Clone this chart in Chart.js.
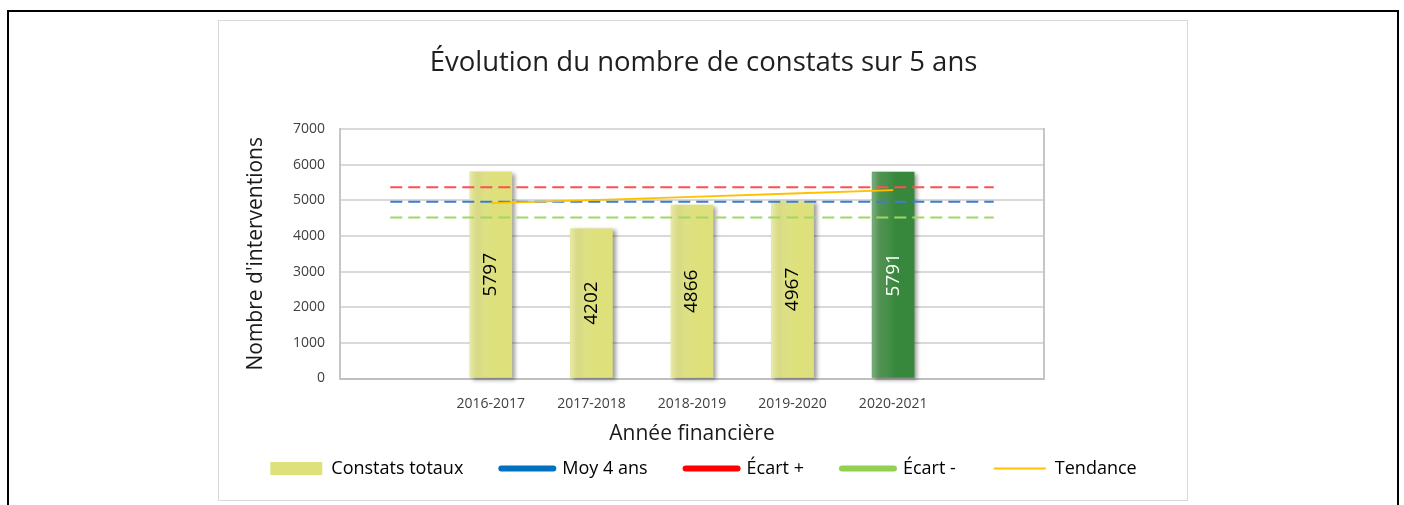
<!DOCTYPE html>
<html lang="fr">
<head>
<meta charset="utf-8">
<title>Évolution du nombre de constats sur 5 ans</title>
<script src="https://cdn.jsdelivr.net/npm/chart.js@4.4.1/dist/chart.umd.min.js"></script>
<style>
  html, body { margin: 0; padding: 0; background: #fff; }
  body { width: 1404px; height: 505px; position: relative; overflow: hidden; }
  #cadre { position: absolute; left: 7px; top: 10px; width: 1388px; height: 520px; border: 2px solid #000; border-bottom: none; }
  #boite { position: absolute; left: 218px; top: 20px; width: 968px; height: 479px; border: 1.5px solid #D9D9D9; }
  #graphique { position: absolute; left: 0; top: 0; }
</style>
</head>
<body>
<div id="cadre"></div>
<div id="boite"></div>
<canvas id="graphique" width="1404" height="505"></canvas>
<script>
// Données
const annees = ["", "2016-2017", "2017-2018", "2018-2019", "2019-2020", "2020-2021", ""];
const constatsTotaux = [null, 5797, 4202, 4866, 4967, 5791, null];
const moy4Ans = [4958, 4958, 4958, 4958, 4958, 4958, 4958];
const ecartPlus = [5365, 5365, 5365, 5365, 5365, 5365, 5365];
const ecartMoins = [4520, 4520, 4520, 4520, 4520, 4520, 4520];
const tendance = [null, 4920, 5005, 5098, 5190, 5285, null];
const graduationsY = [0, 1000, 2000, 3000, 4000, 5000, 6000, 7000];

const POLICE = '"Open Sans", "Noto Sans", sans-serif';
const jaune = "#DDE07B";
const vert = "#37873C";

// ombre + reflet sur les barres
const effetBarres = {
  id: "effetBarres",
  beforeDatasetDraw(chart, args) {
    if (args.index !== 0) return;
    const ctx = chart.ctx;
    ctx.save();
    ctx.shadowColor = "rgba(0,0,0,0.38)";
    ctx.shadowBlur = 4;
    ctx.shadowOffsetX = 3;
    ctx.shadowOffsetY = 2;
  },
  afterDatasetDraw(chart, args) {
    if (args.index !== 0) return;
    const ctx = chart.ctx;
    ctx.restore();
    chart.getDatasetMeta(0).data.forEach((barre, i) => {
      if (constatsTotaux[i] == null) return;
      const g = barre.x - barre.width / 2;
      const grad = ctx.createLinearGradient(g, 0, g + barre.width * 0.55, 0);
      grad.addColorStop(0, "rgba(255,255,255,0.35)");
      grad.addColorStop(0.35, "rgba(190,190,170,0.18)");
      grad.addColorStop(1, "rgba(255,255,255,0)");
      ctx.save();
      ctx.fillStyle = grad;
      ctx.fillRect(g, barre.y, barre.width * 0.55, barre.base - barre.y);
      ctx.restore();
    });
  }
};

// valeurs écrites verticalement dans les barres
const etiquettesBarres = {
  id: "etiquettesBarres",
  afterDatasetsDraw(chart) {
    const ctx = chart.ctx;
    chart.getDatasetMeta(0).data.forEach((barre, i) => {
      if (constatsTotaux[i] == null) return;
      ctx.save();
      ctx.translate(barre.x, (barre.y + barre.base) / 2);
      ctx.rotate(-Math.PI / 2);
      ctx.font = "19px " + POLICE;
      ctx.fillStyle = i === 5 ? "#FFFFFF" : "#000000";
      ctx.textAlign = "center";
      ctx.textBaseline = "middle";
      ctx.fillText(String(constatsTotaux[i]), 0, 0);
      ctx.restore();
    });
  }
};

const legendeItems = [
  { text: "Constats totaux", pointStyle: "rect", fillStyle: jaune, strokeStyle: "rgba(0,0,0,0)", lineWidth: 0 },
  { text: "Moy 4 ans", pointStyle: "line", fillStyle: "#0070C0", strokeStyle: "#0070C0", lineWidth: 6, lineCap: "round" },
  { text: "Écart +", pointStyle: "line", fillStyle: "#FF0000", strokeStyle: "#FF0000", lineWidth: 6, lineCap: "round" },
  { text: "Écart -", pointStyle: "line", fillStyle: "#92D050", strokeStyle: "#92D050", lineWidth: 6, lineCap: "round" },
  { text: "Tendance", pointStyle: "line", fillStyle: "#FFC000", strokeStyle: "#FFC000", lineWidth: 2, lineCap: "butt" }
];

new Chart(document.getElementById("graphique"), {
  data: {
    labels: annees,
    datasets: [
      {
        type: "bar",
        label: "Constats totaux",
        data: constatsTotaux,
        backgroundColor: annees.map((a, i) => i === 5 ? vert : jaune),
        barThickness: 42,
        clip: false,
        order: 10
      },
      {
        type: "line", label: "Moy 4 ans", data: moy4Ans,
        borderColor: "#3C7DCD", borderWidth: 2, borderDash: [12, 6], pointRadius: 0, order: 3
      },
      {
        type: "line", label: "Écart +", data: ecartPlus,
        borderColor: "#FF5050", borderWidth: 2, borderDash: [12, 6], pointRadius: 0, order: 2
      },
      {
        type: "line", label: "Écart -", data: ecartMoins,
        borderColor: "#A0D764", borderWidth: 2, borderDash: [12, 6], pointRadius: 0, order: 4
      },
      {
        type: "line", label: "Tendance", data: tendance,
        borderColor: "#FFC000", borderWidth: 1.8, pointRadius: 0, order: 1
      }
    ]
  },
  options: {
    responsive: false,
    animation: false,
    layout: { padding: { left: 219, right: 216, top: 21, bottom: 17.5 } },
    plugins: {
      title: {
        display: true,
        text: "Évolution du nombre de constats sur 5 ans",
        color: "#1F1F1F",
        font: { family: POLICE, size: 27.5, weight: "normal" },
        padding: { top: 25.5, bottom: 49.5 }
      },
      legend: {
        position: "bottom",
        labels: {
          usePointStyle: true,
          pointStyleWidth: 52,
          boxHeight: 13,
          padding: 38,
          color: "#404040",
          font: { family: POLICE, size: 18 },
          generateLabels: () => legendeItems.map((it, i) => Object.assign({ datasetIndex: i, hidden: false }, it))
        }
      },
      tooltip: { enabled: false }
    },
    scales: {
      x: {
        grid: { display: false },
        border: { display: true, color: "#BFBFBF", width: 2 },
        ticks: { color: "#404040", padding: 9, font: { family: POLICE, size: 14 } },
        title: {
          display: true, text: "Année financière", color: "#1A1A1A",
          font: { family: POLICE, size: 21 }, padding: { top: 0, bottom: -25.5 }
        },
        afterFit: (axe) => { axe.height = 43; }
      },
      y: {
        min: graduationsY[0],
        max: graduationsY[graduationsY.length - 1],
        grid: { color: "#D9D9D9", lineWidth: 2, drawTicks: false },
        border: { display: true, color: "#C6C6C6", width: 2 },
        ticks: {
          stepSize: graduationsY[1] - graduationsY[0],
          callback: (v) => String(v),
          color: "#404040", padding: 15, font: { family: POLICE, size: 14 }
        },
        title: {
          display: true, text: "Nombre d'interventions", color: "#1A1A1A",
          font: { family: POLICE, size: 21 }, padding: { top: 24, bottom: 0 }
        },
        afterFit: (axe) => { axe.width = 121; }
      },
      droite: {
        position: "right",
        grid: { display: false, drawTicks: false },
        border: { display: true, color: "#C6C6C6", width: 2 },
        ticks: { display: false },
        afterFit: (axe) => { axe.width = 144; }
      }
    }
  },
  plugins: [effetBarres, etiquettesBarres]
});
</script>
</body>
</html>
